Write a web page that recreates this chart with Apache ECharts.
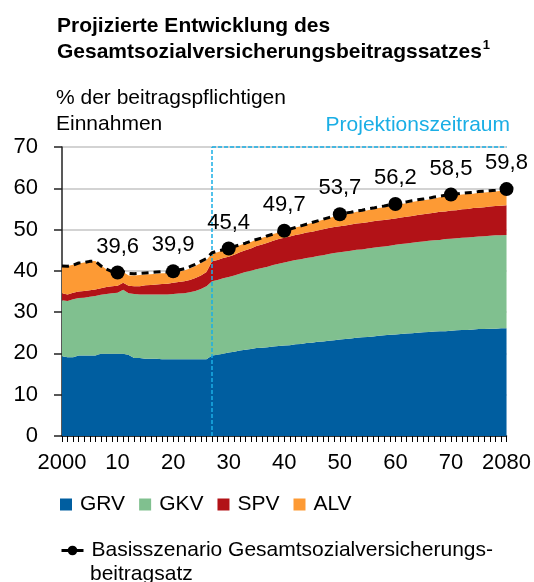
<!DOCTYPE html>
<html>
<head>
<meta charset="utf-8">
<script src="https://cdn.jsdelivr.net/npm/echarts@6/dist/echarts.min.js"></script>
<style>
  html, body { margin: 0; padding: 0; background: #fff; }
  #chart { width: 534px; height: 582px; }
</style>
</head>
<body>
<div id="chart"></div>
<script>
// years 2000 .. 2080
const years = [];
for (let y = 2000; y <= 2080; y++) years.push(String(y));

const seriesNames = ['GRV', 'GKV', 'SPV', 'ALV'];
const basisName = 'Basisszenario Gesamtsozialversicherungsbeitragsatz';

// contribution rates in %
const grv = [
  19.3, 19.1, 19.1, 19.5, 19.5, 19.5, 19.5, 19.9, 19.9, 19.9,
  19.9, 19.9, 19.6, 18.9, 18.9, 18.7, 18.7, 18.7, 18.6, 18.6,
  18.6, 18.6, 18.6, 18.6, 18.6, 18.6, 18.6, 19.5, 19.7, 19.9,
  20.2, 20.4, 20.7, 20.9, 21.1, 21.3, 21.4, 21.5, 21.7, 21.8,
  21.9, 22.0, 22.2, 22.3, 22.5, 22.6, 22.8, 22.9, 23.1, 23.2,
  23.4, 23.5, 23.6, 23.8, 23.9, 24.0, 24.1, 24.3, 24.4, 24.5,
  24.6, 24.7, 24.8, 24.9, 25.0, 25.1, 25.2, 25.3, 25.4, 25.4,
  25.5, 25.6, 25.7, 25.7, 25.8, 25.9, 25.9, 26.0, 26.0, 26.1, 26.1
];
const gkv = [
  13.6, 13.6, 14.0, 13.9, 14.0, 14.2, 14.4, 14.3, 14.5, 14.7,
  14.8, 15.5, 15.0, 15.5, 15.4, 15.6, 15.6, 15.6, 15.7, 15.7,
  15.8, 15.9, 16.0, 16.2, 16.5, 17.0, 17.7, 18.0, 18.1, 18.3,
  18.3, 18.5, 18.6, 18.8, 18.9, 19.1, 19.3, 19.5, 19.7, 19.9,
  20.1, 20.3, 20.4, 20.5, 20.6, 20.7, 20.8, 20.9, 21.0, 21.1,
  21.1, 21.2, 21.3, 21.3, 21.3, 21.4, 21.5, 21.5, 21.5, 21.6,
  21.7, 21.8, 21.8, 21.9, 22.0, 22.0, 22.1, 22.1, 22.1, 22.3,
  22.3, 22.3, 22.3, 22.4, 22.4, 22.4, 22.5, 22.5, 22.6, 22.5, 22.6
];
const spv = [
  1.7, 1.6, 1.6, 1.6, 1.6, 1.6, 1.6, 1.6, 1.7, 1.7,
  1.7, 1.7, 1.8, 1.9, 2.0, 2.2, 2.3, 2.4, 2.5, 2.6,
  2.7, 2.8, 2.9, 3.0, 3.2, 3.3, 3.4, 4.8, 4.8, 4.9,
  4.9, 5.0, 5.2, 5.3, 5.4, 5.6, 5.7, 5.8, 5.9, 6.0,
  6.0, 6.0, 6.1, 6.1, 6.2, 6.2, 6.2, 6.3, 6.3, 6.3,
  6.3, 6.3, 6.3, 6.4, 6.4, 6.4, 6.4, 6.4, 6.4, 6.4,
  6.4, 6.4, 6.5, 6.5, 6.5, 6.6, 6.6, 6.7, 6.8, 6.7,
  6.8, 6.8, 6.9, 6.9, 7.0, 7.0, 7.0, 7.1, 7.1, 7.2, 7.2
];
const alv = [
  6.6, 6.9, 6.8, 6.8, 6.9, 7.0, 6.9, 5.5, 4.3, 3.3,
  2.9, 2.6, 2.5, 2.6, 2.7, 2.6, 2.6, 2.6, 2.6, 2.5,
  2.4, 2.5, 2.6, 2.8, 2.9, 3.0, 2.9, 1.9, 1.9, 1.9,
  1.8, 1.8, 1.7, 1.7, 1.6, 1.6, 1.6, 1.6, 1.6, 1.6,
  1.6, 1.7, 1.8, 1.9, 2.0, 2.1, 2.2, 2.3, 2.4, 2.5,
  2.6, 2.7, 2.7, 2.8, 2.8, 2.9, 2.9, 3.0, 3.1, 3.2,
  3.2, 3.3, 3.3, 3.4, 3.4, 3.4, 3.4, 3.4, 3.5, 3.6,
  3.6, 3.6, 3.6, 3.6, 3.5, 3.6, 3.6, 3.5, 3.5, 3.6, 3.6
];
const basis = [
  41.2, 41.1, 41.4, 41.9, 42.0, 42.3, 42.4, 41.2, 40.4, 39.8,
  39.6, 39.8, 39.4, 39.3, 39.4, 39.5, 39.6, 39.7, 39.8, 39.7,
  39.9, 40.2, 40.5, 41.0, 41.6, 42.3, 43.0, 44.4, 44.8, 45.1,
  45.4, 45.9, 46.3, 46.7, 47.2, 47.6, 48.0, 48.5, 48.9, 49.3,
  49.7, 50.1, 50.5, 50.9, 51.3, 51.7, 52.1, 52.5, 52.9, 53.3,
  53.7, 54.0, 54.2, 54.5, 54.7, 55.0, 55.2, 55.5, 55.7, 56.0,
  56.2, 56.5, 56.7, 57.0, 57.2, 57.4, 57.6, 57.9, 58.1, 58.3,
  58.5, 58.6, 58.8, 58.9, 59.0, 59.2, 59.3, 59.4, 59.5, 59.7, 59.8
];
// years with a dot and a value label
const markedYears = ['2010', '2020', '2030', '2040', '2050', '2060', '2070', '2080'];
const projectionStart = 27.3;   // category index where the projection box starts

const colors = ['#005ea0', '#80c08f', '#b21217', '#fd9a34'];
const cyan = '#1aaee5';
const font = 'Liberation Sans';

const chart = echarts.init(document.getElementById('chart'), null, { renderer: 'canvas' });

const areaSeries = [grv, gkv, spv, alv].map((vals, i) => ({
  name: seriesNames[i],
  type: 'line',
  stack: 'gsv',
  data: vals,
  symbol: 'none',
  lineStyle: { width: 0 },
  areaStyle: { color: colors[i], opacity: 1 },
  itemStyle: { color: colors[i] },
  z: 2
}));

// projection box (left and top edge only)
areaSeries[0].markLine = {
  silent: true,
  symbol: 'none',
  label: { show: false },
  lineStyle: { color: cyan, type: [4, 2], width: 1.5 },
  data: [
    { xAxis: projectionStart },
    [{ coord: [projectionStart, 70] }, { coord: [80, 70] }]
  ]
};

const lineData = basis.map((v, i) => markedYears.includes(years[i])
  ? { value: v, symbol: 'circle', symbolSize: 14, label: { show: true } }
  : { value: v });

const option = {
  animation: false,
  textStyle: { fontFamily: font },
  title: [
    {
      text: 'Projizierte Entwicklung des\nGesamtsozialversicherungsbeitragssatzes{sup|1}',
      left: 52, top: 8,
      textStyle: {
        fontFamily: font, fontSize: 21, fontWeight: 'bold', color: '#000', lineHeight: 26,
        rich: {
          sup: { fontFamily: font, fontSize: 13, fontWeight: 'bold', color: '#000',
                 lineHeight: 26, verticalAlign: 'top', padding: [0, 0, 6, 1] }
        }
      }
    },
    {
      text: '% der beitragspflichtigen\nEinnahmen',
      left: 51, top: 80,
      textStyle: { fontFamily: font, fontSize: 21, fontWeight: 'normal', color: '#000', lineHeight: 26 }
    },
    {
      text: 'Projektionszeitraum',
      right: 19, top: 110,
      textStyle: { fontFamily: font, fontSize: 21, fontWeight: 'normal', color: cyan }
    }
  ],
  legend: [
    {
      data: seriesNames,
      left: 60, top: 494,
      padding: 0,
      icon: 'rect',
      itemWidth: 12, itemHeight: 12, itemGap: 14,
      textStyle: { fontFamily: font, fontSize: 21, color: '#000', padding: [0, 0, 0, 3] }
    },
    {
      data: [basisName],
      left: 60, top: 540,
      padding: 0,
      itemWidth: 22, itemHeight: 12,
      lineStyle: { type: 'solid', width: 3 },
      formatter: () => 'Basisszenario Gesamtsozialversicherungs-',
      textStyle: { fontFamily: font, fontSize: 21, color: '#000', padding: [0, 0, 0, 3] }
    }
  ],
  graphic: [
    {
      type: 'text', left: 90, top: 564,
      style: { text: 'beitragsatz', font: '21px "Liberation Sans"', fill: '#000' }
    }
  ],
  grid: { left: 62, right: 27, top: 147, bottom: 146 },
  xAxis: {
    type: 'category',
    data: years,
    boundaryGap: false,
    axisLine: { lineStyle: { color: '#000', width: 1.5 } },
    axisTick: { interval: 0, length: 6, lineStyle: { color: '#000', width: 1 } },
    axisLabel: {
      interval: (i) => i % 10 === 0,
      formatter: (v) => (v === '2000' || v === '2080') ? v : v.slice(2),
      fontFamily: font, fontSize: 22, color: '#000', margin: 16
    },
    splitLine: { show: false }
  },
  yAxis: {
    type: 'value',
    min: 0, max: 70, interval: 10,
    axisLine: { show: true, lineStyle: { color: '#222', width: 1.5 } },
    axisTick: { show: true, length: 8, lineStyle: { color: '#222', width: 1.5 } },
    axisLabel: { fontFamily: font, fontSize: 22, color: '#000', margin: 24 },
    splitLine: { lineStyle: { color: '#c4c4c4', width: 1.5 } }
  },
  series: [
    ...areaSeries,
    {
      name: basisName,
      type: 'line',
      data: lineData,
      symbol: 'none',
      showAllSymbol: true,
      lineStyle: { color: '#000', width: 3, type: [7, 5] },
      itemStyle: { color: '#000' },
      label: {
        show: false,
        position: 'top',
        distance: 8,
        fontFamily: font, fontSize: 22, color: '#000',
        formatter: (p) => p.value.toFixed(1).replace('.', ',')
      },
      z: 5
    }
  ]
};

chart.setOption(option);
</script>
</body>
</html>
